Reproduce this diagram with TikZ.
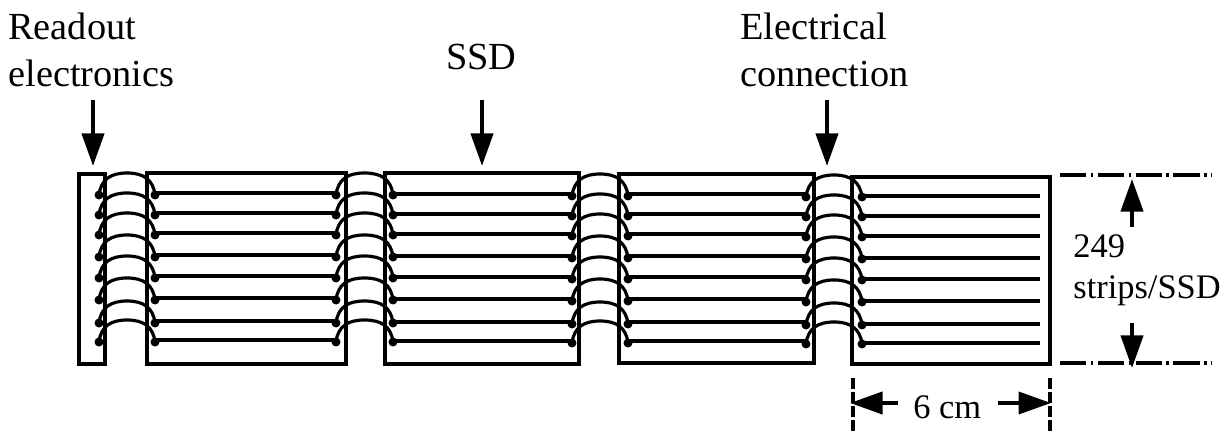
\documentclass[tikz,border=0pt]{standalone}
\usepackage{fontspec}
\setmainfont{Liberation Serif}
\usetikzlibrary{arrows.meta}
\tikzset{
  lbl/.style={anchor=base west,inner sep=0pt,font=\fontsize{21.8}{26}\selectfont},
  sidelbl/.style={anchor=base west,inner sep=0pt,font=\fontsize{19.6}{23}\selectfont},
  wire/.style={line width=1.8pt},
  bigarrow/.style={line width=2.3pt,-{Triangle[length=18.5pt,width=12.5pt]}},
  guide/.style={line width=1.8pt,dash pattern=on 15pt off 2.5pt on 1.5pt off 2.5pt},
  tick/.style={line width=1.8pt,dash pattern=on 6pt off 2pt}
}
\begin{document}
\begin{tikzpicture}[x=0.02cm,y=-0.02cm]
\useasboundingbox (0,0) rectangle (1229,435);
% boxes
\draw[wire] (79,174) rectangle (105,364);
\draw[wire] (147,173) rectangle (346,364);
\draw[wire] (385,173) rectangle (579,364);
\draw[wire] (619,174) rectangle (814,363);
\draw[wire] (852,177) rectangle (1050,364);
% strips
\foreach \ya in {193,213,233,255,276,298,321,340} {
  \draw[wire] (155,\ya) -- (336,\ya);
  \draw[wire] (393,\ya+1) -- (572,\ya+1);
  \draw[wire] (628,\ya+1) -- (806,\ya+1);
  \draw[wire] (862,\ya+3) -- (1040,\ya+3);
}
% bonds
\foreach \xa/\xb/\dy in {99/155/0,336/393/0,572/628/1,806/862/2} {
  \foreach \ya in {193,213,233,255,276,298,321,340} {
    \draw[wire] (\xa,\ya+\dy+2) .. controls (\xa+2,\ya+\dy-14) and (\xa+12,\ya+\dy-20) .. ({(\xa+\xb)/2},\ya+\dy-20)
      .. controls (\xb-12,\ya+\dy-20) and (\xb-2,\ya+\dy-14) .. (\xb,\ya+\dy+2);
    \fill (\xa,\ya+\dy+2) circle (4.5);
    \fill (\xb,\ya+\dy+2) circle (4.5);
  }
}
% labels
\node[lbl] (readout) at (8,39.5) {Readout};
\node[lbl] (electronics) at (8,87) {electronics};
\node[lbl] (ssd) at (446,70) {SSD};
\node[lbl] (electrical) at (740,39.5) {Electrical};
\node[lbl] (connection) at (740,87) {connection};
\node[sidelbl] (count) at (1073,257) {249};
\node[sidelbl] (stripsper) at (1073,298) {strips/SSD};
\node[sidelbl] (width) at (913,418) {6 cm};
% arrows
\coordinate (rtail) at (93,100);
\coordinate (rtip) at (93,166);
\coordinate (stail) at (482,100);
\coordinate (stip) at (482,166);
\coordinate (etail) at (827,100);
\coordinate (etip) at (827,166);
\coordinate (uptail) at (1132,227);
\coordinate (uptip) at (1132,179);
\coordinate (dntail) at (1132,323);
\coordinate (dntip) at (1132,368);
\coordinate (ltail) at (898,403);
\coordinate (ltip) at (850,403);
\coordinate (rttail) at (998,403);
\coordinate (rttip) at (1051,403);
\draw[bigarrow] (rtail) -- (rtip);
\draw[bigarrow] (stail) -- (stip);
\draw[bigarrow] (etail) -- (etip);
\draw[bigarrow] (uptail) -- (uptip);
\draw[bigarrow] (dntail) -- (dntip);
\draw[bigarrow] (ltail) -- (ltip);
\draw[bigarrow] (rttail) -- (rttip);
% dotted guides
\coordinate (gta) at (1060,175);
\coordinate (gtb) at (1212,175);
\coordinate (gba) at (1060,363);
\coordinate (gbb) at (1212,363);
\coordinate (tla) at (853,378);
\coordinate (tlb) at (853,434);
\coordinate (tra) at (1050,378);
\coordinate (trb) at (1050,434);
\draw[guide] (gta) -- (gtb);
\draw[guide] (gba) -- (gbb);
\draw[tick] (tla) -- (tlb);
\draw[tick] (tra) -- (trb);
\end{tikzpicture}
\end{document}
